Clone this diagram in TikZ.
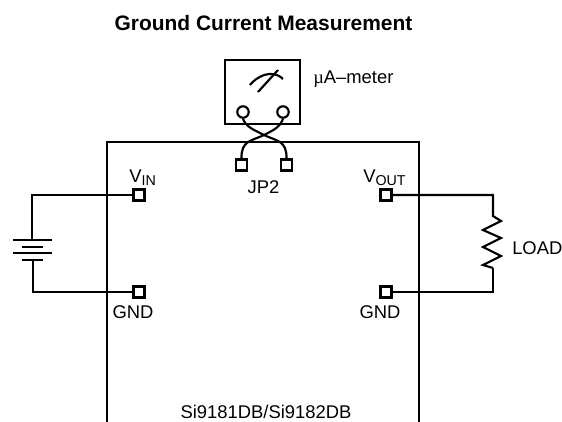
\documentclass[tikz,border=0pt]{standalone}
\usepackage{fontspec}
\setmainfont{Liberation Sans}
\newfontfamily\mufont{Liberation Serif}
\newcommand{\subtxt}[1]{\raisebox{-2.3pt}{\fontsize{10.7}{12}\selectfont #1}}
\tikzset{
  wire/.style={line width=1.6pt},
  pin/.style={draw, line width=1.6pt, fill=white, minimum size=8.2pt, inner sep=0pt},
  lbl/.style={font=\fontsize{13.8}{16}\selectfont, inner sep=0pt},
  meterhole/.style={draw, circle, line width=1.6pt, minimum size=8.6pt, inner sep=0pt}
}
\begin{document}
\begin{tikzpicture}[x=0.75pt, y=-0.75pt]
\useasboundingbox (0,0) rectangle (562,422);
% title
\node[lbl, font=\fontsize{15.7}{18}\selectfont\bfseries] (title) at (263.5,23) {Ground Current Measurement};
% board outline
\coordinate (bl) at (107,422);
\coordinate (tl) at (107,142);
\coordinate (tr) at (419,142);
\coordinate (br) at (419,422);
\draw[wire] (bl) -- (tl) -- (tr) -- (br);
\node[lbl] (board) at (266,412) {Si9181DB/Si9182DB};
% meter
\draw[wire] (225,60) rectangle (300,124);
\node[meterhole] (holea) at (243,112) {};
\node[meterhole] (holeb) at (283,112) {};
\draw[wire] (250,85) .. controls (256,77) and (272,68) .. (283,79);
\draw[wire] (258,92) -- (278,70);
\node[lbl, anchor=west] (meter) at (313,79) {{\mufont µ}A--meter};
% JP2
\node[pin] (jpa) at (241.5,165) {};
\node[pin] (jpb) at (286.5,165) {};
\node[lbl] (jp) at (263.5,187) {JP2};
\coordinate (cross) at (264,135);
\draw[wire] (holea.south) .. controls (246,127) and (254,130) .. (cross) .. controls (276,141) and (287,140) .. (jpb.north);
\draw[wire] (holeb.south) .. controls (280,127) and (274,130) .. (cross) .. controls (252,141) and (241,140) .. (jpa.north);
% pins
\node[pin] (vin) at (139,195) {};
\node[pin] (gndl) at (139,292) {};
\node[pin] (vout) at (386,195) {};
\node[pin] (gndr) at (386,292) {};
\node[lbl, anchor=base west] (vinl) at (129,182) {V\subtxt{IN}};
\node[lbl, anchor=base west] (voutl) at (363,182) {V\subtxt{OUT}};
\node[lbl] (gnda) at (133,312) {GND};
\node[lbl] (gndb) at (380,312) {GND};
% battery
\coordinate (batt) at (32,240);
\coordinate (batb) at (33,260);
\draw[wire] (vin) -| (batt);
\draw[wire] (gndl) -| (batb);
\draw[wire] (13,240) -- (52,240);
\draw[wire] (22,247) -- (43,247);
\draw[wire] (13,253) -- (52,253);
\draw[wire] (22,260) -- (43,260);
% load
\coordinate (resb) at (493,268);
\draw[wire] (vout) -| (493,216) -- (501,221) -- (483,230) -- (501,238) -- (483,247) -- (501,256) -- (483,265) -- (resb);
\draw[wire] (gndr) -| (resb);
\node[lbl, anchor=west] (load) at (512,248) {LOAD};
\end{tikzpicture}
\end{document}
